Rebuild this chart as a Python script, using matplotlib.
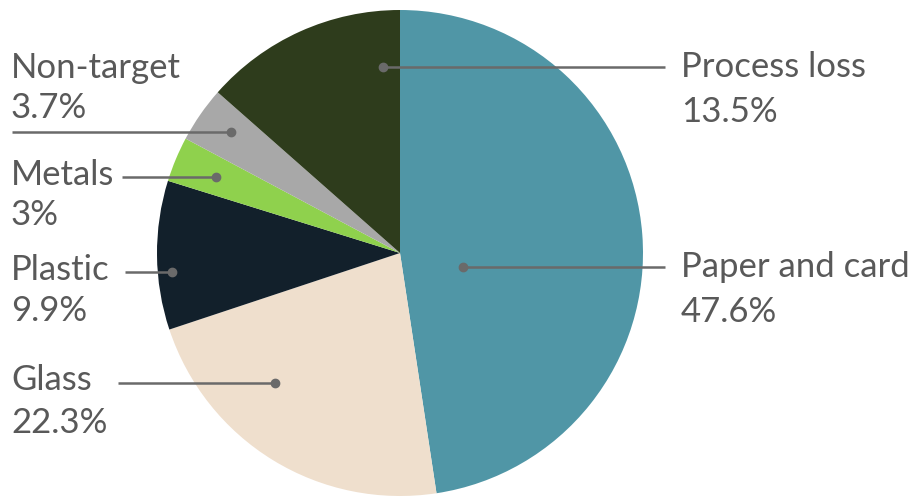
import matplotlib
matplotlib.use("Agg")
import matplotlib.pyplot as plt

labels = ["Paper and card", "Glass", "Plastic", "Metals", "Non-target", "Process loss"]
shares = [47.6, 22.3, 9.9, 3, 3.7, 13.5]
colors = ["#5096a6", "#efdfcd", "#12202b", "#8fd14d", "#a8a8a8", "#2e3c1c"]

W, H = 913, 498

# label layout in pixel coords (y from top): text x, two baselines, line start, dot
layout = {
    "Paper and card": dict(x=681, base=(277, 322), line=(665, 267), dot=(463, 267)),
    "Glass": dict(x=11, base=(390, 433), line=(118, 383), dot=(275, 383)),
    "Plastic": dict(x=11, base=(280, 321), line=(125, 272), dot=(172, 272)),
    "Metals": dict(x=11, base=(185, 225), line=(122, 177), dot=(216, 177)),
    "Non-target": dict(x=11, base=(78, 118), line=(12, 132), dot=(231, 132)),
    "Process loss": dict(x=681, base=(77, 122), line=(665, 67), dot=(383, 67)),
}

plt.rcParams["font.family"] = ["Lato", "DejaVu Sans"]
fig = plt.figure(figsize=(W / 100, H / 100), dpi=100)
ax = fig.add_axes([0, 0, 1, 1])


def up(y):
    return H - y


ax.pie(shares, colors=colors, startangle=90, counterclock=False,
       center=(400, up(253)), radius=243, frame=True,
       wedgeprops=dict(linewidth=0))
ax.set_xlim(0, W)
ax.set_ylim(0, H)
ax.set_aspect("equal")
ax.axis("off")

gray = "#595959"
for name, val in zip(labels, shares):
    lay = layout[name]
    lx, ly = lay["line"]
    dx, dy = lay["dot"]
    ax.plot([lx, dx], [up(ly), up(dy)], color="#6a6a6a", lw=1.8, solid_capstyle="butt")
    ax.plot(dx, up(dy), "o", color="#6a6a6a", ms=6)
    b1, b2 = lay["base"]
    ax.text(lay["x"], up(b1), name, ha="left", va="baseline", fontsize=25, color=gray)
    ax.text(lay["x"], up(b2), f"{val:g}%", ha="left", va="baseline", fontsize=25, color=gray)

fig.savefig("out.png", dpi=100, facecolor="white")
